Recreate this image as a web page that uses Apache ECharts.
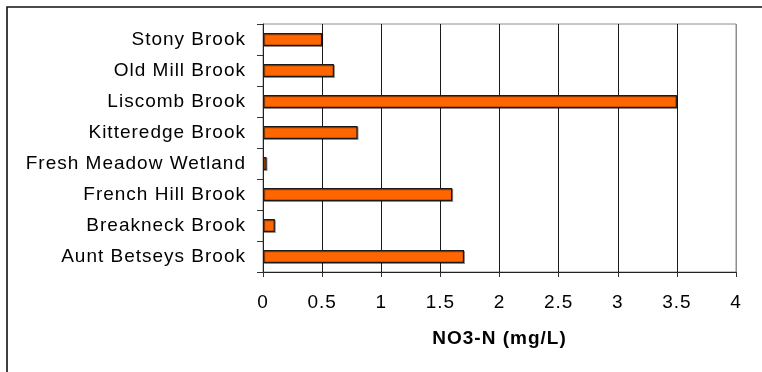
<!DOCTYPE html>
<html>
<head>
<meta charset="utf-8">
<script src="https://cdn.jsdelivr.net/npm/echarts@6/dist/echarts.min.js"></script>
<style>
  html, body { margin: 0; padding: 0; background: #fff; }
  #chart { width: 762px; height: 372px; }
</style>
</head>
<body>
<div id="chart"></div>
<script>
// Sampling sites, listed bottom to top as they appear on the category axis
const sites = [
  'Aunt Betseys Brook',
  'Breakneck Brook',
  'French Hill Brook',
  'Fresh Meadow Wetland',
  'Kitteredge Brook',
  'Liscomb Brook',
  'Old Mill Brook',
  'Stony Brook'
];

// Nitrate-nitrogen concentration at each site (mg/L)
const no3n = [1.7, 0.1, 1.6, 0.03, 0.8, 3.5, 0.6, 0.5];

// Value-axis range and step
const xMin = 0;
const xMax = 4;
const xStep = 0.5;

const FONT = "'Liberation Sans', Arial, sans-serif";

// Slightly open tracking on all canvas text
(function () {
  const proto = CanvasRenderingContext2D.prototype;
  if (!('letterSpacing' in proto)) return;
  const baseFill = proto.fillText;
  proto.fillText = function () {
    this.letterSpacing = '1px';
    return baseFill.apply(this, arguments);
  };
})();

// Split line colours: dark for interior lines, grey where the last one meets the frame
const splitColors = [];
for (let v = xMin; v <= xMax + 1e-9; v += xStep) {
  splitColors.push(Math.abs(v - xMax) < 1e-9 ? '#8c8c8c' : '#1a1a1a');
}

const chart = echarts.init(document.getElementById('chart'), null, { renderer: 'canvas' });

chart.setOption({
  animation: false,
  backgroundColor: '#ffffff',
  graphic: [
    {
      // outer chart frame (left and top edges fall inside the canvas)
      type: 'rect',
      shape: { x: 7, y: 7, width: 900, height: 500 },
      style: { fill: 'none', stroke: '#111', lineWidth: 1.6 },
      silent: true,
      z: 0
    }
  ],
  grid: {
    left: 263,
    top: 24,
    right: 26,
    bottom: 100,
    show: true,
    borderColor: '#8c8c8c',
    borderWidth: 1,
    backgroundColor: 'transparent'
  },
  xAxis: {
    type: 'value',
    min: xMin,
    max: xMax,
    interval: xStep,
    name: 'NO3-N (mg/L)',
    nameLocation: 'middle',
    nameGap: 57,
    nameTextStyle: {
      color: '#000',
      fontFamily: FONT,
      fontSize: 19,
      fontWeight: 'bold'
    },
    axisLine: { show: true, lineStyle: { color: '#222', width: 1 } },
    axisTick: { show: true, length: 5, lineStyle: { color: '#333', width: 1 } },
    axisLabel: {
      color: '#000',
      fontFamily: FONT,
      fontSize: 19,
      margin: 21
    },
    splitLine: { show: true, lineStyle: { color: splitColors, width: 1 } }
  },
  yAxis: {
    type: 'category',
    data: sites,
    axisLine: { show: true, lineStyle: { color: '#222', width: 1 } },
    axisTick: { show: true, length: 6, lineStyle: { color: '#333', width: 1 } },
    axisLabel: {
      color: '#000',
      fontFamily: FONT,
      fontSize: 19,
      margin: 17,
      padding: [2, 0, 0, 0]
    },
    splitLine: { show: false }
  },
  series: [
    {
      type: 'bar',
      data: no3n,
      barWidth: '42%',
      itemStyle: {
        color: '#ff6600',
        borderColor: '#1a1a1a',
        borderWidth: 1.2,
        shadowColor: 'rgba(0,0,0,0.35)',
        shadowOffsetX: 1,
        shadowOffsetY: 1,
        shadowBlur: 0
      },
      z: 3
    }
  ]
});
</script>
</body>
</html>
